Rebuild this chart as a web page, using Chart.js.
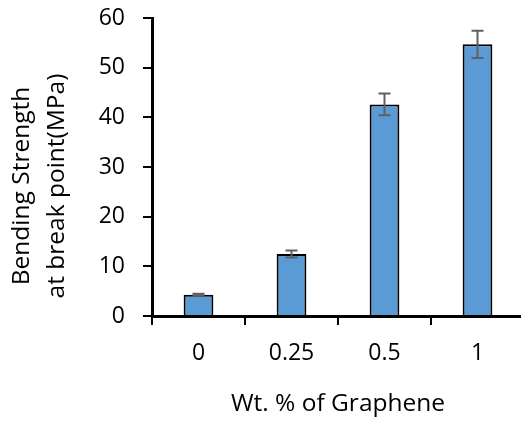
<!DOCTYPE html>
<html>
<head>
<meta charset="utf-8">
<script src="https://cdn.jsdelivr.net/npm/chart.js@4.4.0/dist/chart.umd.min.js"></script>
<style>
html,body{margin:0;padding:0;background:#fff;overflow:hidden;}
#wrap{width:521px;height:423px;position:relative;overflow:hidden;}
</style>
</head>
<body>
<div id="wrap"><canvas id="c" width="524" height="423"></canvas></div>
<script>
const categories = ['0', '0.25', '0.5', '1'];
const strength = [4.3, 12.5, 42.6, 54.7];
const errors = [0.2, 0.7, 2.2, 2.75];
const yTicks = [0, 10, 20, 30, 40, 50, 60];
const yTitleLines = ['Bending Strength', 'at break point(MPa)'];
const xTitle = 'Wt. % of Graphene';

const FONT = '"Open Sans", sans-serif';

const errorBars = {
  id: 'errorBars',
  afterDatasetsDraw(chart) {
    const meta = chart.getDatasetMeta(0);
    const ys = chart.scales.y;
    const ctx = chart.ctx;
    ctx.save();
    ctx.strokeStyle = '#606060';
    ctx.lineWidth = 2;
    meta.data.forEach((bar, i) => {
      const x = bar.x;
      const top = ys.getPixelForValue(strength[i] + errors[i]);
      const bot = ys.getPixelForValue(strength[i] - errors[i]);
      const cap = 6;
      ctx.beginPath();
      ctx.moveTo(x, top); ctx.lineTo(x, bot);
      ctx.moveTo(x - cap, top); ctx.lineTo(x + cap, top);
      ctx.moveTo(x - cap, bot); ctx.lineTo(x + cap, bot);
      ctx.stroke();
    });
    ctx.restore();
  }
};

const yTitlePlugin = {
  id: 'yTitle',
  afterDraw(chart) {
    const ctx = chart.ctx;
    ctx.save();
    ctx.fillStyle = '#000';
    ctx.font = '24.5px ' + FONT;
    ctx.textAlign = 'center';
    ctx.textBaseline = 'middle';
    const cy = 186;
    const xs = [22, 57];
    yTitleLines.forEach((line, i) => {
      ctx.save();
      ctx.translate(xs[i], cy);
      ctx.rotate(-Math.PI / 2);
      ctx.fillText(line, 0, 0);
      ctx.restore();
    });
    ctx.restore();
  }
};

const chart = new Chart(document.getElementById('c'), {
  type: 'bar',
  data: {
    labels: categories,
    datasets: [{
      data: strength,
      backgroundColor: '#5B9BD5',
      borderColor: '#000000',
      borderWidth: 2,
      categoryPercentage: 1,
      barPercentage: 0.32
    }]
  },
  options: {
    responsive: false,
    animation: false,
    layout: { padding: { top: 18, right: 0, left: 0, bottom: 0 } },
    plugins: { legend: { display: false }, tooltip: { enabled: false } },
    scales: {
      x: {
        afterFit(s) { s.height = 107; s.paddingLeft = 0; s.paddingRight = 0; },
        border: { color: '#000', width: 3 },
        grid: { display: true, drawOnChartArea: false, color: '#000', lineWidth: 2, tickLength: 9, offset: true },
        ticks: { color: '#000', font: { family: FONT, size: 23 }, padding: 15 },
        title: { display: true, text: xTitle, color: '#000', font: { family: FONT, size: 24.5 }, padding: { top: 25 } }
      },
      y: {
        min: 0, max: 60,
        afterFit(s) { s.width = 152; s.paddingTop = 0; s.paddingBottom = 0; },
        afterBuildTicks(s) { s.ticks = yTicks.map(v => ({ value: v })); },
        border: { color: '#000', width: 3 },
        grid: { display: true, drawOnChartArea: false, color: '#000', lineWidth: 2, tickLength: 9 },
        ticks: { color: '#000', font: { family: FONT, size: 23 }, padding: 18 },
        title: { display: false }
      }
    }
  },
  plugins: [errorBars, yTitlePlugin]
});
</script>
</body>
</html>
